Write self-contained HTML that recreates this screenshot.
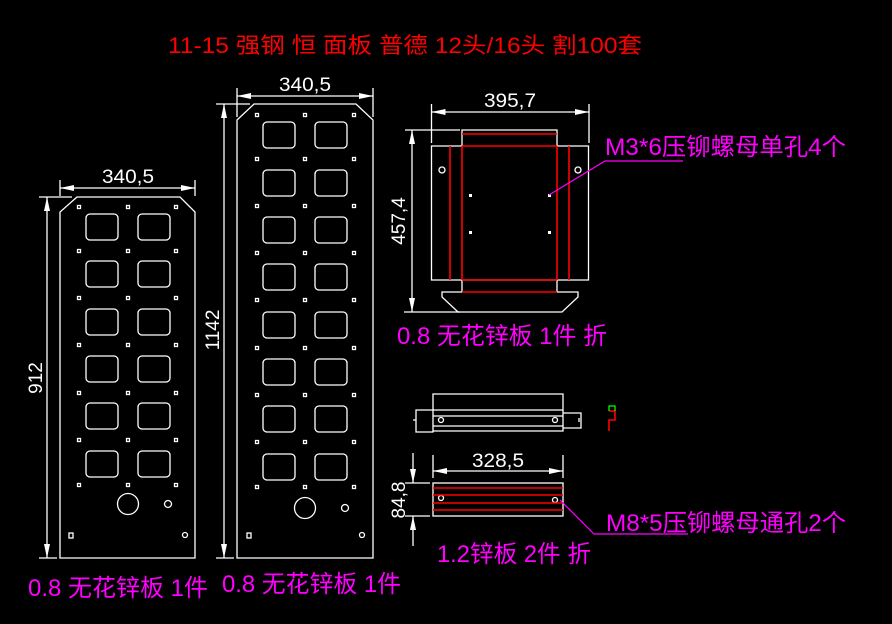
<!DOCTYPE html>
<html><head><meta charset="utf-8"><style>
html,body{margin:0;padding:0;background:#000;width:892px;height:624px;overflow:hidden}
svg{display:block}
text{font-family:"Liberation Sans","Noto Sans CJK SC",sans-serif}
</style></head><body>
<svg id="s" width="892" height="624" viewBox="0 0 892 624" xmlns="http://www.w3.org/2000/svg">
<rect width="892" height="624" fill="#000"/>
<g id="w" fill="none" stroke="#fff" stroke-width="1.3">
<path d="M77 197 H180 L195 212 V558 H60 V212 Z"/>
<circle cx="128" cy="504" r="10.5"/><circle cx="168" cy="504" r="3.5"/>
<rect x="69" y="533" width="4" height="5"/><circle cx="185" cy="535" r="2.5"/>
<path d="M254 104 H356 L373 120 V558 H237 V120 Z"/>
<circle cx="305" cy="508" r="10.5"/><circle cx="345" cy="508" r="3.5"/>
<rect x="247" y="533" width="4" height="5"/><circle cx="362" cy="535" r="2.5"/>
<path d="M60 180 V196 M195 180 V196 M60 188 H195 M39 197 H72 M47 197 V558 M39 558 H57"/>
<path d="M237 88 V117 M373 88 V117 M237 96 H373 M216 104 H250 M224 104 V558 M216 558 H234"/>
<path d="M431.5 146 H462 V130 H557 V146 H588.5 V280 H431.5 Z M462 280 V292 H442 V297 L458 312 H562 L578 297 V292 H557 V280"/>
<circle cx="442" cy="170" r="3"/><circle cx="578" cy="170" r="3"/>
<path d="M431.5 112 H589 M431.5 104 V143 M589 104 V143 M405 130 H460 M412 130 V312 M404 312 H460"/>
<path d="M433 394 H563 V431 H433 Z M433 410 H563 M433 416 H563 M433 426 H563 M416 410 H433 V432 H416 Z M563 413 H581 V428 H563 M413 420 H416 M579 418 V422"/>
<circle cx="441" cy="420" r="2.5"/><circle cx="555" cy="420" r="2.5"/>
<rect x="433" y="483" width="130" height="33"/>
<path d="M433 455 V478 M563 455 V478 M433 471 H563 M413 453 V483 M405 483 H430 M405 516 H430 M413 516 V546"/>
<circle cx="441" cy="498" r="2.5"/><circle cx="555" cy="500" r="2.5"/>
</g>
<g fill="#fff">
<path d="M60 188 l14 -3 v6z M195 188 l-14 -3 v6z M47 197 l-3 14 h6z M47 558 l-3 -14 h6z"/>
<path d="M237 96 l14 -3 v6z M373 96 l-14 -3 v6z M224 104 l-3 14 h6z M224 558 l-3 -14 h6z"/>
<path d="M431.5 112 l14 -3 v6z M589 112 l-14 -3 v6z M412 130 l-3 14 h6z M412 312 l-3 -14 h6z"/>
<path d="M433 471 l14 -3 v6z M563 471 l-14 -3 v6z M413 483 l-3 -14 h6z M413 516 l-3 14 h6z"/>
<rect x="469" y="194" width="3" height="3"/><rect x="548" y="194" width="3" height="3"/>
<rect x="469" y="231" width="3" height="3"/><rect x="548" y="231" width="3" height="3"/>
</g>
<g stroke="#f00" stroke-width="1.6" fill="none">
<path d="M462 134 H557 M462 146 H557 M462 280 H557 M462 292 H557 M450 146 V280 M462 146 V280 M557 146 V280 M569 146 V280"/>
<path d="M433 488 H563 M433 495 H563 M433 503 H563 M433 510 H563"/>
<path d="M609 411 H615 V420 H609 V431"/>
</g>
<path d="M609 411 V406 H615 V411" stroke="#0f0" fill="none" stroke-width="1.3"/>
<g stroke="#f0f" fill="none" stroke-width="1.2">
<path d="M549 195 L605 161 H683"/>
<path d="M560 500 L594 534 H688"/>
</g>
<g fill="#fff" font-size="19">
<text x="128" y="183" text-anchor="middle" textLength="52" lengthAdjust="spacingAndGlyphs">340,5</text>
<text x="305" y="91" text-anchor="middle" textLength="52" lengthAdjust="spacingAndGlyphs">340,5</text>
<text x="510" y="107" text-anchor="middle" textLength="52" lengthAdjust="spacingAndGlyphs">395,7</text>
<text x="498" y="467" text-anchor="middle" textLength="52" lengthAdjust="spacingAndGlyphs">328,5</text>
<text transform="translate(42 378) rotate(-90)" text-anchor="middle">912</text>
<text transform="translate(219 330) rotate(-90)" text-anchor="middle">1142</text>
<text transform="translate(405 221) rotate(-90)" text-anchor="middle">457,4</text>
<text transform="translate(405 500) rotate(-90)" text-anchor="middle">84,8</text>
</g>
<text x="168" y="53" fill="#f00" font-size="22" textLength="474" lengthAdjust="spacingAndGlyphs">11-15 强钢 恒 面板 普德 12头/16头 割100套</text>
<g fill="#f0f" font-size="24">
<text x="605" y="155" textLength="241" lengthAdjust="spacingAndGlyphs">M3*6压铆螺母单孔4个</text>
<text x="397" y="344" textLength="210" lengthAdjust="spacingAndGlyphs">0.8 无花锌板 1件 折</text>
<text x="606" y="531" textLength="240" lengthAdjust="spacingAndGlyphs">M8*5压铆螺母通孔2个</text>
<text x="437" y="562" textLength="154" lengthAdjust="spacingAndGlyphs">1.2锌板 2件 折</text>
<text x="28" y="596" textLength="180" lengthAdjust="spacingAndGlyphs">0.8 无花锌板 1件</text>
<text x="222" y="592" textLength="179" lengthAdjust="spacingAndGlyphs">0.8 无花锌板 1件</text>
</g>
</svg>
<script>
var s=document.getElementById('w'),NS='http://www.w3.org/2000/svg';
function R(x,y,w,h,r){var e=document.createElementNS(NS,'rect');e.setAttribute('x',x);e.setAttribute('y',y);e.setAttribute('width',w);e.setAttribute('height',h);if(r){e.setAttribute('rx',r);}s.appendChild(e);}
[214,261,309,356,403,451].forEach(function(y){R(86,y,32,26,4);R(138,y,32,26,4);});
[207,251,298,345,393,440,485].forEach(function(y){[79,128,176].forEach(function(x){R(x-1.5,y-1.5,3,3);});});
[122,170,217,264,312,359,406,454].forEach(function(y){R(263,y,32,26,4);R(315,y,32,26,4);});
[115,159,206,253,300,348,395,442,487].forEach(function(y){[257,305,354].forEach(function(x){R(x-1.5,y-1.5,3,3);});});
</script>
</body></html>
